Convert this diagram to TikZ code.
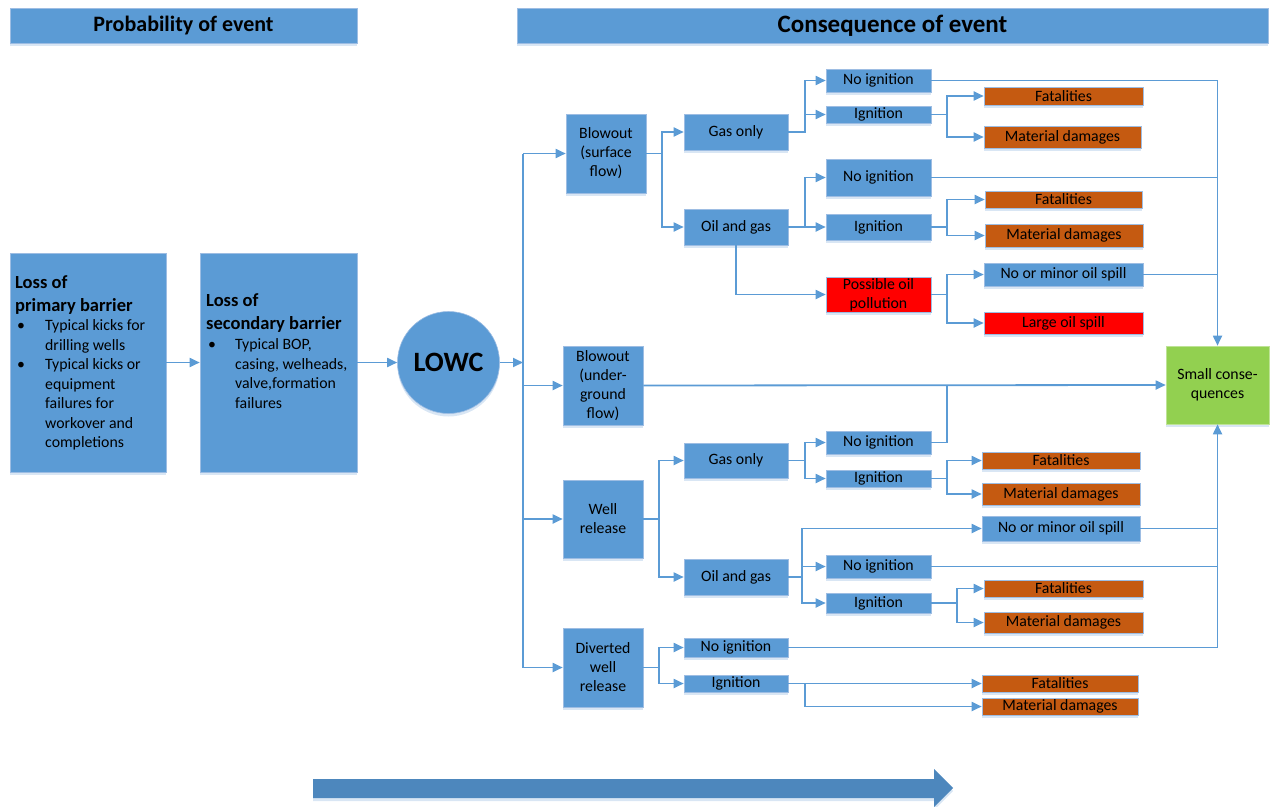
\documentclass[tikz,border=0pt]{standalone}
\usepackage{fontspec}
\setmainfont{Carlito}
\usetikzlibrary{arrows.meta,shadows}
\definecolor{boxblue}{HTML}{5B9BD5}
\definecolor{boxline}{HTML}{9DBDE3}
\definecolor{shadeblue}{HTML}{D9E6F4}
\definecolor{harmorange}{HTML}{C55A11}
\definecolor{harmred}{HTML}{FF0000}
\definecolor{okgreen}{HTML}{92D050}
\definecolor{flowblue}{HTML}{4D87BD}
\tikzset{
  shd/.style={general shadow={fill=shadeblue,shadow yshift=-3pt}},
  bbox/.style={draw=boxline,fill=boxblue,line width=0.6pt,align=center,
    inner xsep=1pt,inner ysep=0pt,shd},
  obox/.style={bbox,fill=harmorange},
  rbox/.style={bbox,fill=harmred},
  gbox/.style={bbox,fill=okgreen,draw=okgreen!60!white},
  hdr/.style={bbox,minimum height=35},
  ln/.style={draw=boxblue,line width=1.8pt},
  arr/.style={ln,-{Triangle[length=10pt,width=9pt]}},
}
\newcommand{\ttlfont}{\fontsize{18.5}{23}\selectfont\bfseries}
\newcommand{\lstfont}{\fontsize{15.8}{19.5}\selectfont}

\begin{document}
\begin{tikzpicture}[x=1pt,y=-1pt,font=\fontsize{15.8}{19}\selectfont]
\useasboundingbox (0,0) rectangle (1271,806);
% headers
\node[hdr,minimum width=347,font=\fontsize{22}{26}\selectfont\bfseries] (phd) at (183.5,25.5) {Probability of event};
\node[hdr,minimum width=751,font=\fontsize{25}{30}\selectfont\bfseries] (chd) at (892.5,25.5) {Consequence of event};

% probability side
\node[bbox,minimum width=156,minimum height=219] (pb) at (88,362.5) {};
\node[anchor=north west,inner sep=0pt,font=\ttlfont] at (15,272) {\begin{tabular}{@{}l@{}}Loss of\\primary barrier\end{tabular}};
\node[anchor=north west,inner sep=0pt,font=\lstfont] at (17,317) {\begin{tabular}{@{}p{28pt}@{}l@{}}
  \textbullet & Typical kicks for\\ & drilling wells\\
  \textbullet & Typical kicks or\\ & equipment\\ & failures for\\ & workover and\\ & completions\end{tabular}};
\node[bbox,minimum width=157,minimum height=219] (sb) at (278.5,362.5) {};
\node[anchor=north west,inner sep=0pt,font=\ttlfont] at (206,290) {\begin{tabular}{@{}l@{}}Loss of\\secondary barrier\end{tabular}};
\node[anchor=north west,inner sep=0pt,font=\lstfont] at (208,336) {\begin{tabular}{@{}p{27pt}@{}l@{}}
  \textbullet & Typical BOP,\\ & casing, welheads,\\ & valve,formation\\ & failures\end{tabular}};
\node[circle,fill=boxblue,draw=boxline,line width=0.6pt,minimum size=102,inner sep=0pt,
  font=\fontsize{28}{32}\selectfont\bfseries,shd] (lowc) at (448.5,362.5) {LOWC};
\coordinate (tr) at (523,362.5);

% event types
\node[bbox,minimum width=80,minimum height=79] (bs) at (606,153.5) {Blowout\\(surface\\flow)};
\node[bbox,minimum width=80,minimum height=79] (bu) at (603,385.5) {Blowout\\(under-\\ground\\flow)};
\node[bbox,minimum width=80,minimum height=78] (wr) at (603,519) {Well\\release};
\node[bbox,minimum width=80,minimum height=79] (dw) at (603,667.5) {Diverted\\well\\release};

% release kinds
\node[bbox,minimum width=104,minimum height=36] (go1) at (736,132) {Gas only};
\node[bbox,minimum width=104,minimum height=36] (og1) at (736,227) {Oil and gas};
\node[bbox,minimum width=104,minimum height=35] (go2) at (736,460.5) {Gas only};
\node[bbox,minimum width=104,minimum height=36] (og2) at (736,577) {Oil and gas};
\node[bbox,minimum width=104,minimum height=19] (ni5) at (736,647.5) {No ignition};
\node[bbox,minimum width=104,minimum height=17] (ig5) at (736,683.5) {Ignition};

% ignition
\node[bbox,minimum width=105,minimum height=23] (ni1) at (878.5,80.5) {No ignition};
\node[bbox,minimum width=105,minimum height=17] (ig1) at (878.5,114.5) {Ignition};
\node[bbox,minimum width=105,minimum height=37] (ni2) at (878.5,177.5) {No ignition};
\node[bbox,minimum width=105,minimum height=26] (ig2) at (878.5,227) {Ignition};
\node[rbox,minimum width=105,minimum height=35] (po) at (878.5,294.5) {Possible oil\\pollution};
\node[bbox,minimum width=105,minimum height=23] (ni3) at (878.5,442.5) {No ignition};
\node[bbox,minimum width=105,minimum height=17] (ig3) at (878.5,478.5) {Ignition};
\node[bbox,minimum width=105,minimum height=23] (ni4) at (878.5,566.5) {No ignition};
\node[bbox,minimum width=105,minimum height=20] (ig4) at (878.5,603) {Ignition};

% outcomes
\node[obox,minimum width=159,minimum height=18] (fa1) at (1063.5,96) {Fatalities};
\node[obox,minimum width=157,minimum height=22] (md1) at (1062.5,137) {Material damages};
\node[obox,minimum width=157,minimum height=17] (fa2) at (1063.5,199.5) {Fatalities};
\node[obox,minimum width=158,minimum height=23] (md2) at (1064,235.5) {Material damages};
\node[bbox,minimum width=159,minimum height=23] (ns1) at (1063.5,274.5) {No or minor oil spill};
\node[rbox,minimum width=159,minimum height=22] (ls) at (1063.5,323) {Large oil spill};
\node[obox,minimum width=158,minimum height=17] (fa3) at (1061,460.5) {Fatalities};
\node[obox,minimum width=158,minimum height=22] (md3) at (1061,494) {Material damages};
\node[bbox,minimum width=158,minimum height=25] (ns2) at (1061,528.5) {No or minor oil spill};
\node[obox,minimum width=159,minimum height=17] (fa4) at (1063.5,588.5) {Fatalities};
\node[obox,minimum width=159,minimum height=21] (md4) at (1063.5,622.5) {Material damages};
\node[obox,minimum width=156,minimum height=17] (fa5) at (1060,683.5) {Fatalities};
\node[obox,minimum width=156,minimum height=17] (md5) at (1060,706.5) {Material damages};
\node[gbox,minimum width=103,minimum height=78] (sc) at (1217.5,385) {Small conse-\\quences};

% connectors
\draw[arr] (pb) -- (sb);
\draw[arr] (sb) -- (lowc);
\draw[arr] (lowc) -- (tr);
\draw[ln] (tr |- bs.west) -- (tr |- dw.west);
\foreach \ev in {bs,bu,wr,dw}
  \draw[arr] (tr |- \ev.west) -- (\ev.west);
\draw[arr] (bs.east) -- ++(16,0) |- (go1.west);
\draw[arr] (bs.east) -- ++(16,0) |- (og1.west);
\draw[arr] (go1.east) -- ++(17,0) |- (ni1.west);
\draw[arr] (go1.east) -- ++(17,0) |- (ig1.west);
\draw[arr] (og1.east) -- ++(17,0) |- (ni2.west);
\draw[arr] (og1.east) -- ++(17,0) |- (ig2.west);
\draw[arr] (og1.south) |- (po.west);
\draw[arr] (ig1.east) -- ++(16,0) |- (fa1.west);
\draw[arr] (ig1.east) -- ++(16,0) |- (md1.west);
\draw[arr] (ig2.east) -- ++(16,0) |- (fa2.west);
\draw[arr] (ig2.east) -- ++(16,0) |- (md2.west);
\draw[arr] (po.east) -- ++(16,0) |- (ns1.west);
\draw[arr] (po.east) -- ++(16,0) |- (ls.west);
\draw[arr] (ni1.east) -| (sc.north);
\draw[ln] (ni2.east) -- (ni2.east -| sc.north);
\draw[ln] (ns1.east) -- (ns1.east -| sc.north);
\draw[arr] (bu.east) -- (sc.west);
\draw[arr] (wr.east) -- ++(16,0) |- (go2.west);
\draw[arr] (wr.east) -- ++(16,0) |- (og2.west);
\draw[arr] (go2.east) -- ++(17,0) |- (ni3.west);
\draw[arr] (go2.east) -- ++(17,0) |- (ig3.west);
\draw[ln] (ni3.east) -- ++(16,0) coordinate (j1) -- (j1 |- bu.east);
\draw[arr] (ig3.east) -- ++(16,0) |- (fa3.west);
\draw[arr] (ig3.east) -- ++(16,0) |- (md3.west);
\draw[arr] (og2.east) -- ++(14,0) |- (ns2.west);
\draw[arr] (og2.east) -- ++(14,0) |- (ni4.west);
\draw[arr] (og2.east) -- ++(14,0) |- (ig4.west);
\draw[ln] (ns2.east) -- (ns2.east -| sc.south);
\draw[ln] (ni4.east) -- (ni4.east -| sc.south);
\draw[arr] (ig4.east) -- ++(26,0) |- (fa4.west);
\draw[arr] (ig4.east) -- ++(26,0) |- (md4.west);
\draw[arr] (dw.east) -- ++(16,0) |- (ni5.west);
\draw[arr] (dw.east) -- ++(16,0) |- (ig5.west);
\draw[arr] (ni5.east) -| (sc.south);
\draw[arr] (ig5.east) -- (fa5.west);
\draw[arr] (ig5.east) -- ++(17,0) |- (md5.west);

% time arrow
\fill[flowblue,shd] (313,779) -- (934,779) -- (934,769) -- (953,788) -- (934,807)
  -- (934,798) -- (313,798) -- cycle;
\end{tikzpicture}
\end{document}
